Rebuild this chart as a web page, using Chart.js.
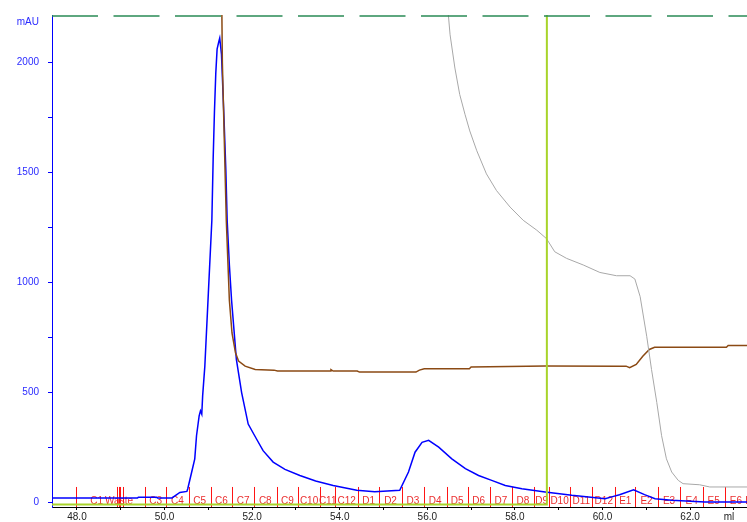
<!DOCTYPE html>
<html>
<head>
<meta charset="utf-8">
<script src="https://cdn.jsdelivr.net/npm/chart.js@4.4.1/dist/chart.umd.min.js"></script>
<style>
  html, body { margin: 0; padding: 0; background: #fff; }
  #chart { display: block; }
</style>
</head>
<body>
<canvas id="chart" width="747" height="522"></canvas>
<script>
// UV trace (ml, mAU)
const uvMl = [47.43, 49.38, 49.40, 49.82, 49.84, 50.17, 50.35, 50.51, 50.53, 50.62, 50.69, 50.73, 50.79, 50.82, 50.85, 50.87, 50.92,
  51.00, 51.08, 51.11, 51.14, 51.17, 51.20, 51.24, 51.26, 51.30, 51.33, 51.36, 51.40, 51.43, 51.48, 51.53, 51.64, 51.76, 51.91,
  52.10, 52.25, 52.48, 52.75, 53.09, 53.45, 53.85, 54.39, 54.80, 55.37, 55.57, 55.72, 55.88, 56.03, 56.26, 56.56, 56.87, 57.17,
  57.47, 57.78, 58.16, 58.69, 59.30, 60.06, 60.21, 60.39, 60.71, 60.96, 61.20, 61.58, 62.34, 63.30];
const uvMau = [20, 20, 23, 23, 20, 20, 45, 50, 62, 138, 198, 303, 393, 416, 401, 484, 619,
  950, 1281, 1560, 1780, 1950, 2060, 2095, 2110, 2036, 1884, 1733, 1508, 1281, 1080, 920, 650, 499, 356,
  288, 235, 183, 150, 122, 97, 77, 55, 48, 55, 138, 228, 273, 282, 251, 198, 153, 122,
  100, 77, 62, 47, 32, 17, 25, 35, 57, 35, 17, 10, 2, 2];

// conductivity trace (brown)
const condMl = [51.30, 51.32, 51.41, 51.48, 51.54, 51.62, 51.69, 51.84, 52.07, 52.50, 52.58, 53.79, 53.80, 53.85, 54.40, 54.45,
  55.74, 55.82, 55.93, 56.96, 57.00, 58.70, 60.40, 60.54, 60.62, 60.77, 60.92, 61.07, 61.19, 62.83, 62.87, 63.30];
const condVal = [2400, 2000, 1281, 919, 770, 680, 642, 619, 604, 601, 597, 597, 603, 597, 597, 592,
  592, 601, 607, 607, 615, 620, 619, 619, 612, 627, 664, 695, 705, 705, 713, 713];

// second detector trace (grey)
const greyMl = [56.40, 56.52, 56.63, 56.74, 56.86, 56.97, 57.13, 57.35, 57.58, 57.89, 58.19, 58.50, 58.72, 58.91, 59.18, 59.56,
  59.94, 60.32, 60.63, 60.74, 60.86, 61.01, 61.12, 61.24, 61.35, 61.46, 61.58, 61.73, 61.84, 62.22, 62.45, 63.30];
const greyVal = [2400, 2125, 1974, 1854, 1764, 1688, 1598, 1493, 1417, 1342, 1282, 1237, 1199, 1139, 1109, 1079,
  1045, 1030, 1030, 1015, 935, 755, 604, 454, 303, 198, 138, 100, 85, 80, 70, 70];

// injection / event trace (yellow-green)
const eventMl = [47.43, 58.73, 58.73];
const eventVal = [-10, -10, 3000];

// off-scale trace along the top (dashed)
const topMl = [47.43, 63.30];
const topVal = [2211, 2211];

// fractions
const fractionEdges = [47.98, 48.92, 49.55, 50.04, 50.55, 51.05, 51.55, 52.04, 52.56, 53.05, 53.55, 53.90, 54.42, 54.90,
  55.42, 55.92, 56.44, 56.92, 57.43, 57.93, 58.44, 58.78, 59.26, 59.77, 60.29, 60.75, 61.26, 61.78, 62.29, 62.79, 63.30, 63.50];
const fractionNames = ['C1', '', 'C3', 'C4', 'C5', 'C6', 'C7', 'C8', 'C9', 'C10', 'C11', 'C12', 'D1', 'D2', 'D3', 'D4', 'D5',
  'D6', 'D7', 'D8', 'D9', 'D10', 'D11', 'D12', 'E1', 'E2', 'E3', 'E4', 'E5', 'E6', 'E7'];
const wasteMarks = [48.92, 48.95, 48.99, 49.04];
const wasteLabelAt = 48.96;

const yTicks = [0, 250, 500, 750, 1000, 1250, 1500, 1750, 2000];
const xTicks = [48, 49, 50, 51, 52, 53, 54, 55, 56, 57, 58, 59, 60, 61, 62, 63];

const FONT = '"Liberation Sans", Arial, sans-serif';
const toPoints = (xs, ys) => xs.map((v, i) => ({ x: v, y: ys[i] }));

const fractionPlugin = {
  id: 'fractions',
  beforeDatasetsDraw(chart) {
    const { ctx, chartArea, scales: { x, y } } = chart;
    ctx.save();
    ctx.beginPath();
    ctx.rect(chartArea.left, 0, chartArea.right - chartArea.left, chart.height);
    ctx.clip();
    ctx.strokeStyle = 'rgb(255,20,20)';
    ctx.lineWidth = 1;
    const top = y.getPixelForValue(70);
    const bottom = chartArea.bottom;
    fractionEdges.concat(wasteMarks).forEach(v => {
      const px = Math.round(x.getPixelForValue(v)) + 0.5;
      ctx.beginPath();
      ctx.moveTo(px, top);
      ctx.lineTo(px, bottom);
      ctx.stroke();
    });
    ctx.fillStyle = 'rgb(235,45,45)';
    ctx.font = '10px ' + FONT;
    ctx.textAlign = 'center';
    ctx.textBaseline = 'middle';
    const ly = y.getPixelForValue(5);
    fractionNames.forEach((name, i) => {
      if (!name) return;
      const mid = (fractionEdges[i] + fractionEdges[i + 1]) / 2;
      ctx.fillText(name, x.getPixelForValue(mid), ly);
    });
    ctx.fillText('Waste', x.getPixelForValue(wasteLabelAt), ly);
    ctx.restore();
  },
  afterDraw(chart) {
    const { ctx } = chart;
    ctx.save();
    ctx.font = '10px ' + FONT;
    ctx.textBaseline = 'middle';
    ctx.textAlign = 'right';
    ctx.fillStyle = '#2b2bff';
    ctx.fillText('mAU', 39, 22);
    ctx.fillStyle = '#222';
    ctx.textAlign = 'center';
    ctx.fillText('ml', 729, 517);
    ctx.restore();
  }
};

new Chart(document.getElementById('chart'), {
  type: 'line',
  data: {
    datasets: [
      { data: toPoints(topMl, topVal), borderColor: '#2a8a55', borderWidth: 1.5, borderDash: [46, 15.5] },
      { data: toPoints(eventMl, eventVal), borderColor: '#a8d42a', borderWidth: 2 },
      { data: toPoints(greyMl, greyVal), borderColor: '#a8a8a8', borderWidth: 1 },
      { data: toPoints(condMl, condVal), borderColor: '#8b4a14', borderWidth: 1.5 },
      { data: toPoints(uvMl, uvMau), borderColor: '#0000ff', borderWidth: 1.5 }
    ]
  },
  options: {
    responsive: false,
    animation: false,
    layout: { padding: { top: 13, right: 0, left: 0, bottom: 0 } },
    elements: { point: { radius: 0 }, line: { tension: 0 } },
    plugins: { legend: { display: false }, tooltip: { enabled: false } },
    scales: {
      x: {
        type: 'linear',
        min: 47.43,
        max: 63.30,
        afterBuildTicks: s => { s.ticks = xTicks.map(v => ({ value: v })); },
        afterFit: s => { s.height = 14; },
        border: { color: '#000', width: 1 },
        grid: { drawOnChartArea: false, tickLength: 3, color: '#000' },
        ticks: {
          autoSkip: false,
          maxRotation: 0,
          padding: 1,
          color: '#222',
          font: { family: FONT, size: 10 },
          callback: v => (v % 2 === 0 ? v.toFixed(1) : '')
        }
      },
      y: {
        min: -21,
        max: 2215,
        afterBuildTicks: s => { s.ticks = yTicks.map(v => ({ value: v })); },
        afterFit: s => { s.width = 52; },
        border: { color: '#0000ff', width: 1 },
        grid: { drawOnChartArea: false, tickLength: 4, color: '#0000ff' },
        ticks: {
          padding: 9,
          color: '#2b2bff',
          font: { family: FONT, size: 10 },
          callback: v => (v % 500 === 0 ? String(v) : '')
        }
      }
    }
  },
  plugins: [fractionPlugin]
});
</script>
</body>
</html>
